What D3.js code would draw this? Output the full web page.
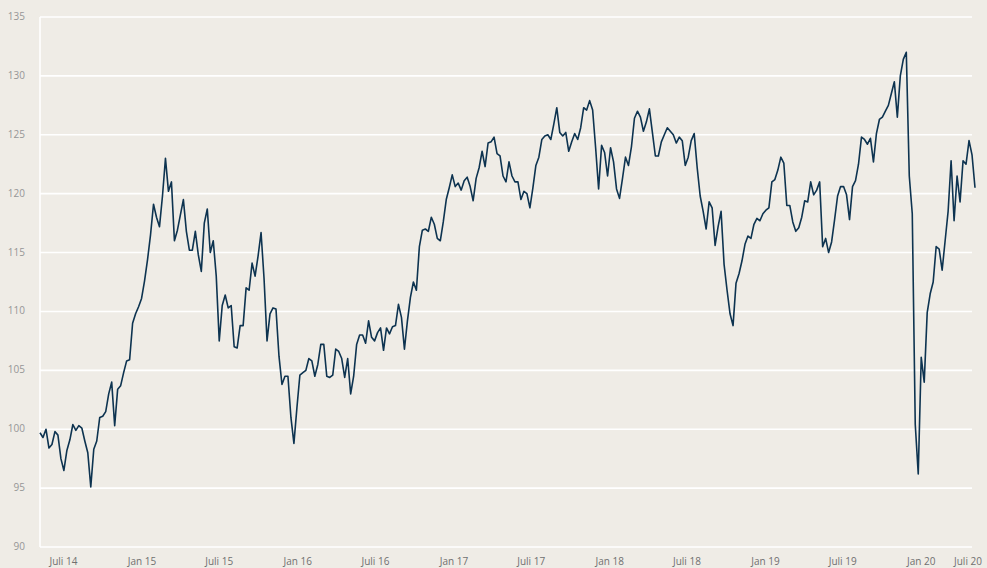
<!DOCTYPE html>
<html>
<head>
<meta charset="utf-8">
<script src="https://cdn.jsdelivr.net/npm/d3@7.9.0/dist/d3.min.js"></script>
<style>
  html, body { margin: 0; padding: 0; background: #efece6; }
  svg { display: block; }
  .tick-y { font: 10px "Open Sans", sans-serif; fill: #969696; }
  .tick-x { font: 10px "Open Sans", sans-serif; fill: #707070; }
</style>
</head>
<body>
<svg id="chart"></svg>
<script>
// weekly index values, first week starting 7 May 2014
const startDate = new Date(2014, 4, 7);
const values = [
  99.7, 99.3, 100.0, 98.4, 98.7, 99.8, 99.5, 97.5, 96.5, 98.2,
  99.1, 100.4, 99.9, 100.3, 100.1, 99.0, 98.0, 95.1, 98.3, 99.0,
  101.0, 101.1, 101.5, 103.0, 104.0, 100.3, 103.4, 103.7, 104.8, 105.8,
  105.9, 109.0, 109.8, 110.4, 111.1, 112.6, 114.4, 116.5, 119.1, 118.0,
  117.2, 119.8, 123.0, 120.2, 121.0, 116.0, 116.9, 118.2, 119.5, 116.8,
  115.2, 115.2, 116.8, 114.8, 113.4, 117.5, 118.7, 115.0, 116.0, 113.0,
  107.5, 110.5, 111.4, 110.3, 110.5, 107.0, 106.9, 108.8, 108.8, 112.0,
  111.8, 114.1, 113.0, 114.7, 116.7, 112.8, 107.5, 109.8, 110.3, 110.2,
  106.2, 103.8, 104.5, 104.5, 101.0, 98.8, 101.8, 104.6, 104.8, 105.0,
  106.0, 105.8, 104.5, 105.5, 107.2, 107.2, 104.5, 104.4, 104.6, 106.8,
  106.6, 106.0, 104.4, 106.0, 103.0, 104.5, 107.2, 108.0, 108.0, 107.3,
  109.2, 107.8, 107.5, 108.2, 108.6, 106.7, 108.6, 108.1, 108.7, 108.8,
  110.6, 109.5, 106.8, 109.2, 111.2, 112.5, 111.8, 115.5, 116.9, 117.0,
  116.8, 118.0, 117.4, 116.2, 116.0, 117.6, 119.5, 120.5, 121.6, 120.6,
  120.9, 120.3, 121.1, 121.4, 120.6, 119.4, 121.3, 122.2, 123.6, 122.3,
  124.3, 124.4, 124.8, 123.4, 123.2, 121.5, 121.0, 122.7, 121.5, 121.0,
  121.0, 119.5, 120.2, 120.0, 118.8, 120.5, 122.4, 123.1, 124.6, 124.9,
  125.0, 124.6, 125.9, 127.3, 125.2, 124.9, 125.2, 123.6, 124.4, 125.1,
  124.6, 125.6, 127.3, 127.1, 127.9, 127.1, 123.9, 120.4, 124.1, 123.5,
  121.5, 123.9, 122.7, 120.4, 119.6, 121.3, 123.1, 122.4, 124.0, 126.4,
  127.0, 126.5, 125.3, 126.1, 127.2, 125.2, 123.2, 123.2, 124.4, 125.0,
  125.6, 125.3, 125.0, 124.3, 124.8, 124.5, 122.4, 123.1, 124.5, 125.1,
  122.2, 119.8, 118.5, 117.0, 119.3, 118.8, 115.6, 117.2, 118.5, 114.0,
  111.8, 109.8, 108.8, 112.4, 113.2, 114.3, 115.7, 116.4, 116.2, 117.4,
  117.9, 117.7, 118.3, 118.6, 118.8, 121.0, 121.2, 122.0, 123.1, 122.6,
  119.0, 119.0, 117.6, 116.8, 117.1, 118.0, 119.4, 119.3, 121.0, 119.9,
  120.3, 121.0, 115.5, 116.2, 115.0, 115.9, 117.8, 119.8, 120.6, 120.6,
  119.9, 117.8, 120.6, 121.1, 122.5, 124.8, 124.6, 124.2, 124.7, 122.7,
  125.1, 126.3, 126.5, 127.0, 127.5, 128.5, 129.5, 126.5, 130.0, 131.4,
  132.0, 121.5, 118.3, 100.4, 96.2, 106.1, 104.0, 109.9, 111.5, 112.5,
  115.5, 115.3, 113.5, 116.0, 118.5, 122.8, 117.7, 121.5, 119.3, 122.8,
  122.5, 124.5, 123.3, 120.5
];

const yTicks = [90, 95, 100, 105, 110, 115, 120, 125, 130, 135];
const xTickDates = [
  "2014-07-01", "2015-01-01", "2015-07-01", "2016-01-01", "2016-07-01",
  "2017-01-01", "2017-07-01", "2018-01-01", "2018-07-01", "2019-01-01",
  "2019-07-01", "2020-01-01", "2020-07-01"
];
const xTickLabels = [
  "Juli 14", "Jan 15", "Juli 15", "Jan 16", "Juli 16", "Jan 17", "Juli 17",
  "Jan 18", "Juli 18", "Jan 19", "Juli 19", "Jan 20", "Juli 20"
];

const width = 987, height = 568;
const margin = { top: 17, right: 12, bottom: 21, left: 40 };

const data = values.map((v, i) => ({ date: d3.timeDay.offset(startDate, 7 * i), value: v }));

const svg = d3.select("#chart").attr("width", width).attr("height", height);

const x = d3.scaleTime()
  .domain(d3.extent(data, d => d.date))
  .range([margin.left, 975]);

const y = d3.scaleLinear()
  .domain([90, 135])
  .range([height - margin.bottom, margin.top]);

// horizontal grid
svg.append("g")
  .selectAll("line")
  .data(yTicks)
  .join("line")
  .attr("x1", margin.left)
  .attr("x2", width - 15)
  .attr("y1", d => y(d))
  .attr("y2", d => y(d))
  .attr("stroke", "#fff")
  .attr("stroke-width", 1.6);

// left axis line
svg.append("line")
  .attr("x1", margin.left).attr("x2", margin.left)
  .attr("y1", y(135)).attr("y2", y(90))
  .attr("stroke", "#fff")
  .attr("stroke-width", 1.6);

// y labels
svg.append("g")
  .selectAll("text")
  .data(yTicks)
  .join("text")
  .attr("class", "tick-y")
  .attr("x", 25)
  .attr("y", d => y(d))
  .attr("dy", "0.3em")
  .attr("text-anchor", "end")
  .text(d => d);

// x labels; the last one is pulled in so it fits inside the page
const parse = d3.timeParse("%Y-%m-%d");
const labelMaxX = width - 19;
svg.append("g")
  .selectAll("text")
  .data(xTickDates)
  .join("text")
  .attr("class", "tick-x")
  .attr("x", d => Math.min(x(parse(d)), labelMaxX))
  .attr("y", 561)
  .attr("dy", "0.35em")
  .attr("text-anchor", "middle")
  .text((d, i) => xTickLabels[i]);

// the line
const line = d3.line()
  .x(d => x(d.date))
  .y(d => y(d.value));

svg.append("path")
  .datum(data)
  .attr("fill", "none")
  .attr("stroke", "#0d3350")
  .attr("stroke-width", 1.6)
  .attr("stroke-linejoin", "round")
  .attr("d", line);
</script>
</body>
</html>
